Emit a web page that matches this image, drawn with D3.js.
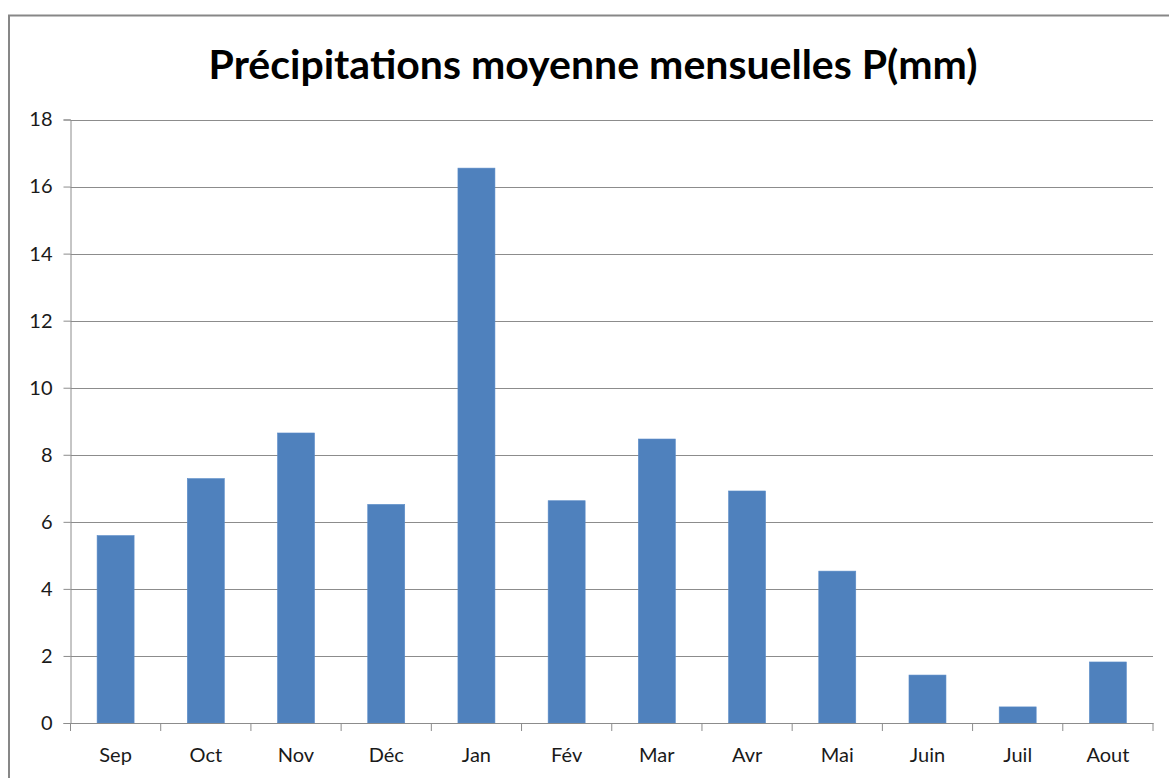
<!DOCTYPE html>
<html lang="fr">
<head>
<meta charset="utf-8">
<title>Précipitations moyenne mensuelles</title>
<script src="https://cdnjs.cloudflare.com/ajax/libs/d3/7.8.5/d3.min.js"></script>
<style>
  body { margin: 0; background: #fff; }
  svg { display: block; }
</style>
</head>
<body>
<div id="viz"></div>
<script>
// data
const months = ["Sep", "Oct", "Nov", "Déc", "Jan", "Fév", "Mar", "Avr", "Mai", "Juin", "Juil", "Aout"];
const precip = [5.59, 7.29, 8.65, 6.52, 16.55, 6.63, 8.47, 6.92, 4.53, 1.43, 0.48, 1.82];
const yTicks = [0, 2, 4, 6, 8, 10, 12, 14, 16, 18];

const width = 1169, height = 778;
const plot = { left: 70.5, right: 1153, top: 119.5, bottom: 723 };
const font = "Lato, 'Open Sans', sans-serif";

const svg = d3.select("#viz").append("svg")
  .attr("width", width)
  .attr("height", height);

svg.append("rect")
  .attr("x", 9).attr("y", 15.5)
  .attr("width", 1200).attr("height", 800)
  .attr("fill", "#fff")
  .attr("stroke", "#878787")
  .attr("stroke-width", 2);

const x = d3.scaleBand()
  .domain(months)
  .range([plot.left, plot.right])
  .paddingInner(0.59)
  .paddingOuter(0.295);

const xTickScale = d3.scaleBand().domain(months).range([plot.left, plot.right]);

const y = d3.scaleLinear().domain([0, 18]).range([plot.bottom, plot.top]);

// gridlines
svg.append("g")
  .selectAll("line")
  .data(yTicks.filter(d => d > 0))
  .join("line")
  .attr("x1", plot.left).attr("x2", plot.right)
  .attr("y1", d => Math.round(y(d)) + 0.5)
  .attr("y2", d => Math.round(y(d)) + 0.5)
  .attr("stroke", "#8c8c8c")
  .attr("stroke-width", 1);

// bars
svg.append("g")
  .selectAll("rect")
  .data(precip)
  .join("rect")
  .attr("x", (d, i) => x(months[i]))
  .attr("width", x.bandwidth())
  .attr("y", d => y(d))
  .attr("height", d => y(0) - y(d))
  .attr("fill", "#4f81bd")
  .attr("stroke", "#5b8cc8")
  .attr("stroke-width", 0.6);

// y axis
const yAxis = svg.append("g")
  .attr("transform", `translate(${plot.left},0)`)
  .call(d3.axisLeft(y).tickValues(yTicks).tickSize(7).tickPadding(11).tickFormat(d3.format("d")));
yAxis.select(".domain").attr("stroke", "#8c8c8c");
yAxis.selectAll(".tick line").attr("stroke", "#8c8c8c");
yAxis.selectAll(".tick text")
  .attr("font-family", font)
  .attr("font-size", 20)
  .attr("fill", "#1a1a1a");

// x axis
const xAxis = svg.append("g")
  .attr("transform", `translate(0,${plot.bottom})`)
  .call(d3.axisBottom(xTickScale).tickSize(0).tickPadding(25));
xAxis.select(".domain").attr("stroke", "#8c8c8c");
xAxis.selectAll(".tick text")
  .attr("font-family", font)
  .attr("font-size", 20)
  .attr("fill", "#1a1a1a");

// category separators under the axis
svg.append("g")
  .selectAll("line")
  .data(months.concat(["end"]))
  .join("line")
  .attr("x1", (d, i) => i < months.length ? xTickScale(d) : plot.right)
  .attr("x2", (d, i) => i < months.length ? xTickScale(d) : plot.right)
  .attr("y1", plot.bottom)
  .attr("y2", plot.bottom + 8)
  .attr("stroke", "#8c8c8c");

// title
svg.append("text")
  .attr("x", 593)
  .attr("y", 79)
  .attr("text-anchor", "middle")
  .attr("font-family", font)
  .attr("font-weight", 700)
  .attr("font-size", 41)
  .attr("fill", "#000")
  .text("Précipitations moyenne mensuelles P(mm)");
</script>
</body>
</html>
